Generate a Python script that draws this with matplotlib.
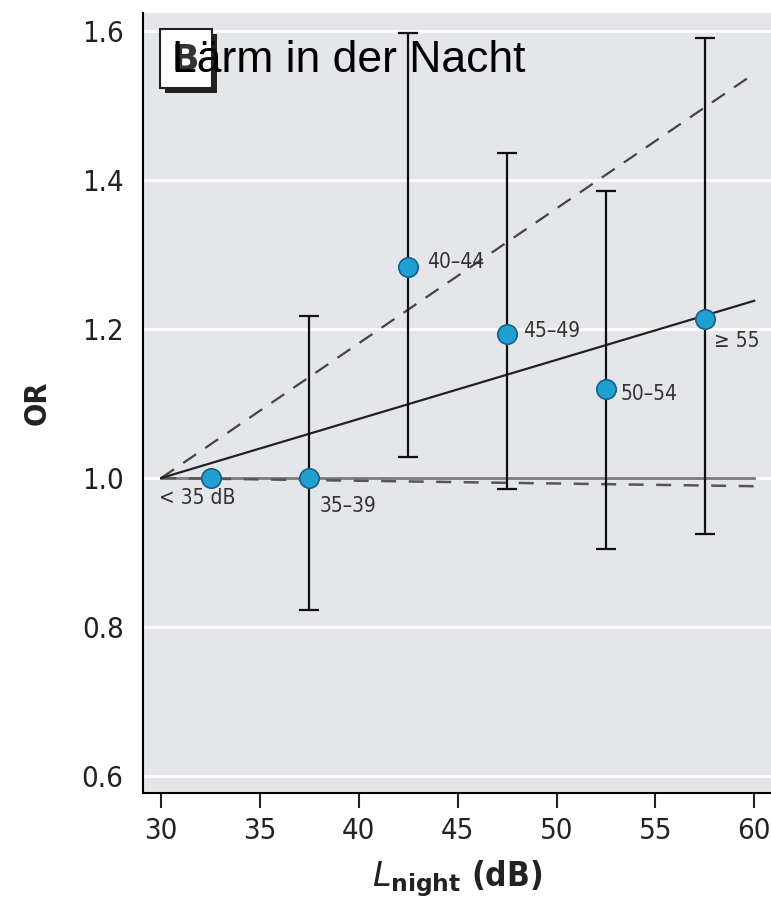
import matplotlib.pyplot as plt
from matplotlib.patches import Rectangle
from matplotlib import font_manager

# Data
x_mid = [32.5, 37.5, 42.5, 47.5, 52.5, 57.5]
odds_ratio = [1.0, 1.0, 1.283, 1.193, 1.12, 1.214]
ci_low = [1.0, 0.823, 1.028, 0.985, 0.905, 0.925]
ci_high = [1.0, 1.218, 1.598, 1.437, 1.385, 1.591]
point_labels = ['< 35 dB', '35\u201339', '40\u201344', '45\u201349', '50\u201354', '\u2265 55']

trend_x = [30, 60]
trend_solid = [1.0, 1.238]
trend_upper = [1.0, 1.543]
trend_lower = [1.0, 0.989]
ref_line = [1.0, 1.0]

y_ticks = [0.6, 0.8, 1.0, 1.2, 1.4, 1.6]
x_ticks = [30, 35, 40, 45, 50, 55, 60]

# condensed font if available
names = {f.name for f in font_manager.fontManager.ttflist}
narrow = 'Liberation Sans Narrow' if 'Liberation Sans Narrow' in names else 'DejaVu Sans'
cond = dict(family=[narrow, 'DejaVu Sans'], stretch='condensed')

fig = plt.figure(figsize=(7.71, 9.13), dpi=100)
ax = fig.add_axes([0.1855, 0.1314, 0.8145, 0.854])
ax.set_facecolor('#e4e6e9')

ax.set_xlim(29.08, 60.85)
ax.set_ylim(0.577, 1.624)

# white grid lines
for yt in y_ticks:
    ax.axhline(yt, color='white', lw=2, zorder=1)

# trend lines
ax.plot(trend_x, ref_line, color='#7a7a7a', lw=2, zorder=2)
ax.plot(trend_x, trend_lower, color='#555555', lw=1.8, ls=(0, (6, 5)), zorder=2)
ax.plot(trend_x, trend_upper, color='#444444', lw=1.6, ls=(0, (7, 5)), zorder=2)
ax.plot(trend_x, trend_solid, color='#222222', lw=1.6, zorder=2)

# error bars (skip the reference category)
yerr = [[o - l for o, l in zip(odds_ratio, ci_low)], [h - o for o, h in zip(odds_ratio, ci_high)]]
ax.errorbar(x_mid[1:], odds_ratio[1:], yerr=[yerr[0][1:], yerr[1][1:]], fmt='none',
            ecolor='#111111', elinewidth=1.6, capsize=7, capthick=1.6, zorder=3)
ax.plot(x_mid, odds_ratio, 'o', ms=14, mfc='#1f9fd2', mec='#1a5f85', mew=1.2, zorder=4)

# labels next to points
offsets = [(-2.6, -0.027), (0.5, -0.038), (0.95, 0.007),
           (0.8, 0.005), (0.75, -0.007), (0.45, -0.03)]
for xm, o, lab, (dx, dy) in zip(x_mid, odds_ratio, point_labels, offsets):
    ax.text(xm + dx, o + dy, lab, ha='left', va='center', fontsize=15,
            color='#333333', zorder=5, **cond)

# panel label box with shadow
ax.add_patch(Rectangle((30.2, 1.517), 2.62, 0.079, facecolor='#222222',
                       edgecolor='none', zorder=5))
ax.add_patch(Rectangle((29.95, 1.524), 2.62, 0.079, facecolor='white',
                       edgecolor='#222222', lw=1.5, zorder=6))
ax.text(31.2, 1.562, 'B', ha='center', va='center', fontsize=26, fontweight='bold',
        family='DejaVu Sans', color='#333333', zorder=7)
ax.text(30.56, 1.56, 'L\u00e4rm in der Nacht', ha='left', va='center', fontsize=32,
        family='Liberation Sans', color='black', zorder=8)

# axes styling
ax.spines['top'].set_visible(False)
ax.spines['right'].set_visible(False)
ax.spines['left'].set_linewidth(1.5)
ax.spines['bottom'].set_linewidth(1.5)
ax.set_xticks(x_ticks)
ax.set_yticks(y_ticks)
ax.set_yticklabels([f'{v:.1f}' for v in y_ticks])
ax.tick_params(axis='x', length=11, width=1.5, pad=6, labelsize=21, colors='#222222')
ax.tick_params(axis='y', length=0, pad=14, labelsize=21, colors='#222222')
for lab in ax.get_xticklabels() + ax.get_yticklabels():
    lab.set_family(cond['family'])
    lab.set_stretch('condensed')

ax.set_ylabel('OR', fontsize=22, fontweight='bold', labelpad=22, color='#222222', **cond)
ax.set_xlabel(r'$\mathbf{\mathit{L}_{night}}$ (dB)', fontsize=24, fontweight='bold',
              labelpad=10, color='#222222', **cond)

fig.savefig('out.png', dpi=100)
